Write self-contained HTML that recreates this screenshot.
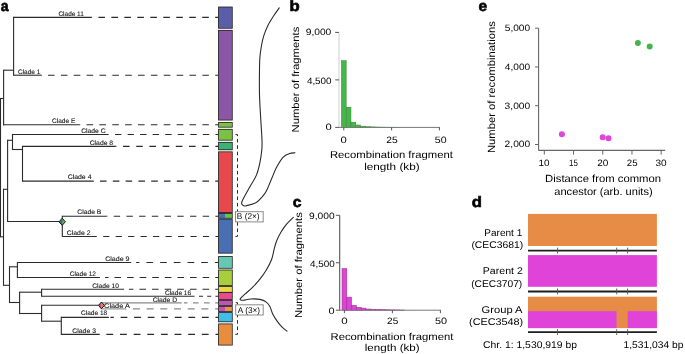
<!DOCTYPE html>
<html><head><meta charset="utf-8"><style>
html,body{margin:0;padding:0;background:#fff;width:685px;height:354px;overflow:hidden}
svg{display:block;will-change:transform}
text{font-family:"Liberation Sans",sans-serif;text-rendering:geometricPrecision}
</style></head><body>
<svg width="685" height="354" viewBox="0 0 685 354">
<rect width="685" height="354" fill="#fff"/>
<line x1="0.50" y1="97.95" x2="0.50" y2="237.35" stroke="#2b2b2b" stroke-width="1.1" />
<line x1="3.60" y1="69.65" x2="3.60" y2="125.45" stroke="#2b2b2b" stroke-width="1.1" />
<line x1="13.60" y1="16.85" x2="13.60" y2="75.75" stroke="#2b2b2b" stroke-width="1.1" />
<line x1="3.50" y1="188.75" x2="3.50" y2="285.85" stroke="#2b2b2b" stroke-width="1.1" />
<line x1="7.60" y1="139.75" x2="7.60" y2="222.05" stroke="#2b2b2b" stroke-width="1.1" />
<line x1="12.50" y1="133.95" x2="12.50" y2="150.05" stroke="#2b2b2b" stroke-width="1.1" />
<line x1="22.50" y1="145.85" x2="22.50" y2="181.65" stroke="#2b2b2b" stroke-width="1.1" />
<line x1="62.30" y1="215.75" x2="62.30" y2="237.05" stroke="#2b2b2b" stroke-width="1.1" />
<line x1="9.50" y1="266.25" x2="9.50" y2="303.05" stroke="#2b2b2b" stroke-width="1.1" />
<line x1="17.40" y1="261.95" x2="17.40" y2="278.05" stroke="#2b2b2b" stroke-width="1.1" />
<line x1="19.60" y1="291.65" x2="19.60" y2="314.05" stroke="#2b2b2b" stroke-width="1.1" />
<line x1="41.60" y1="288.65" x2="41.60" y2="296.85" stroke="#2b2b2b" stroke-width="1.1" />
<line x1="41.60" y1="304.75" x2="41.60" y2="321.75" stroke="#2b2b2b" stroke-width="1.1" />
<line x1="61.30" y1="316.85" x2="61.30" y2="334.95" stroke="#2b2b2b" stroke-width="1.1" />
<line x1="3.60" y1="70.20" x2="13.60" y2="70.20" stroke="#2b2b2b" stroke-width="1.1" />
<line x1="0.00" y1="98.50" x2="3.60" y2="98.50" stroke="#2b2b2b" stroke-width="1.1" />
<line x1="0.50" y1="236.80" x2="3.50" y2="236.80" stroke="#2b2b2b" stroke-width="1.1" />
<line x1="3.50" y1="189.30" x2="7.60" y2="189.30" stroke="#2b2b2b" stroke-width="1.1" />
<line x1="7.60" y1="140.30" x2="12.50" y2="140.30" stroke="#2b2b2b" stroke-width="1.1" />
<line x1="12.50" y1="149.50" x2="22.50" y2="149.50" stroke="#2b2b2b" stroke-width="1.1" />
<line x1="7.60" y1="221.50" x2="62.30" y2="221.50" stroke="#2b2b2b" stroke-width="1.1" />
<line x1="3.50" y1="285.30" x2="9.50" y2="285.30" stroke="#2b2b2b" stroke-width="1.1" />
<line x1="9.50" y1="266.80" x2="17.40" y2="266.80" stroke="#2b2b2b" stroke-width="1.1" />
<line x1="9.50" y1="302.50" x2="19.60" y2="302.50" stroke="#2b2b2b" stroke-width="1.1" />
<line x1="19.60" y1="292.20" x2="41.60" y2="292.20" stroke="#2b2b2b" stroke-width="1.1" />
<line x1="19.60" y1="313.50" x2="41.60" y2="313.50" stroke="#2b2b2b" stroke-width="1.1" />
<line x1="41.60" y1="305.30" x2="101.30" y2="305.30" stroke="#2b2b2b" stroke-width="1.1" />
<line x1="41.60" y1="321.20" x2="61.30" y2="321.20" stroke="#2b2b2b" stroke-width="1.1" />
<line x1="13.60" y1="17.40" x2="91.80" y2="17.40" stroke="#2b2b2b" stroke-width="1.1" />
<line x1="91.80" y1="17.40" x2="218.10" y2="17.40" stroke="#2b2b2b" stroke-width="1.1" stroke-dasharray="6.6 6.38" stroke-dashoffset="6.40"/>
<line x1="13.60" y1="75.20" x2="41.80" y2="75.20" stroke="#2b2b2b" stroke-width="1.1" />
<line x1="41.80" y1="75.20" x2="218.10" y2="75.20" stroke="#2b2b2b" stroke-width="1.1" stroke-dasharray="6.6 6.26" stroke-dashoffset="6.64"/>
<line x1="3.60" y1="124.80" x2="79.90" y2="124.80" stroke="#2b2b2b" stroke-width="1.1" />
<line x1="79.90" y1="124.80" x2="218.10" y2="124.80" stroke="#2b2b2b" stroke-width="1.1" stroke-dasharray="6.6 6.27" stroke-dashoffset="6.27"/>
<line x1="12.50" y1="134.50" x2="108.40" y2="134.50" stroke="#2b2b2b" stroke-width="1.1" />
<line x1="108.40" y1="134.50" x2="218.10" y2="134.50" stroke="#2b2b2b" stroke-width="1.1" stroke-dasharray="6.4 6.15" stroke-dashoffset="5.95"/>
<line x1="22.50" y1="146.40" x2="115.80" y2="146.40" stroke="#2b2b2b" stroke-width="1.1" />
<line x1="115.80" y1="146.40" x2="218.10" y2="146.40" stroke="#2b2b2b" stroke-width="1.1" stroke-dasharray="6.6 6.60" stroke-dashoffset="6.00"/>
<line x1="22.50" y1="181.10" x2="93.70" y2="181.10" stroke="#2b2b2b" stroke-width="1.1" />
<line x1="93.70" y1="181.10" x2="218.10" y2="181.10" stroke="#2b2b2b" stroke-width="1.1" stroke-dasharray="6.6 6.20" stroke-dashoffset="6.50"/>
<line x1="62.30" y1="216.30" x2="106.70" y2="216.30" stroke="#2b2b2b" stroke-width="1.1" />
<line x1="106.70" y1="216.30" x2="218.10" y2="216.30" stroke="#2b2b2b" stroke-width="1.1" stroke-dasharray="6.4 6.31" stroke-dashoffset="5.69"/>
<line x1="62.30" y1="236.50" x2="96.70" y2="236.50" stroke="#2b2b2b" stroke-width="1.1" />
<line x1="96.70" y1="236.50" x2="218.10" y2="236.50" stroke="#2b2b2b" stroke-width="1.1" stroke-dasharray="6.2 6.27" stroke-dashoffset="6.00"/>
<line x1="17.40" y1="262.50" x2="131.20" y2="262.50" stroke="#2b2b2b" stroke-width="1.1" />
<line x1="136.10" y1="262.50" x2="218.10" y2="262.50" stroke="#2b2b2b" stroke-width="1.1" stroke-dasharray="6.7 7.00" stroke-dashoffset="3.40"/>
<line x1="17.40" y1="277.50" x2="99.90" y2="277.50" stroke="#2b2b2b" stroke-width="1.1" />
<line x1="105.00" y1="277.50" x2="218.10" y2="277.50" stroke="#2b2b2b" stroke-width="1.1" stroke-dasharray="6.6 5.99" stroke-dashoffset="3.11"/>
<line x1="41.60" y1="289.20" x2="124.00" y2="289.20" stroke="#2b2b2b" stroke-width="1.1" />
<line x1="128.90" y1="289.20" x2="218.10" y2="289.20" stroke="#2b2b2b" stroke-width="1.1" stroke-dasharray="6.6 6.03" stroke-dashoffset="2.11"/>
<line x1="41.60" y1="296.30" x2="194.60" y2="296.30" stroke="#2b2b2b" stroke-width="1.1" />
<line x1="199.00" y1="296.30" x2="218.10" y2="296.30" stroke="#2b2b2b" stroke-width="1.1" stroke-dasharray="4.0 4.20" stroke-dashoffset="8.20"/>
<line x1="101.30" y1="302.90" x2="181.70" y2="302.90" stroke="#8a8a8a" stroke-width="1.1" />
<line x1="183.90" y1="302.90" x2="218.10" y2="302.90" stroke="#8a8a8a" stroke-width="1.1" stroke-dasharray="5.7 5.40" stroke-dashoffset="2.10"/>
<line x1="101.30" y1="308.90" x2="124.20" y2="308.90" stroke="#8a8a8a" stroke-width="1.1" />
<line x1="124.20" y1="308.90" x2="218.10" y2="308.90" stroke="#8a8a8a" stroke-width="1.1" stroke-dasharray="7.0 6.70" stroke-dashoffset="5.00"/>
<line x1="61.30" y1="317.40" x2="108.90" y2="317.40" stroke="#2b2b2b" stroke-width="1.1" />
<line x1="110.40" y1="317.40" x2="218.10" y2="317.40" stroke="#2b2b2b" stroke-width="1.1" stroke-dasharray="6.8 6.76" stroke-dashoffset="3.38"/>
<line x1="61.30" y1="334.40" x2="99.70" y2="334.40" stroke="#2b2b2b" stroke-width="1.1" />
<line x1="99.70" y1="334.40" x2="218.10" y2="334.40" stroke="#2b2b2b" stroke-width="1.1" stroke-dasharray="6.8 6.84" stroke-dashoffset="6.96"/>
<line x1="101.30" y1="302.90" x2="101.30" y2="308.90" stroke="#8a8a8a" stroke-width="1.1" />
<path d="M59.0,221.8 L62.2,218.3 L62.2,225.3 Z" fill="#4064b8"/>
<path d="M65.4,221.8 L62.2,218.3 L62.2,225.3 Z" fill="#5cb84a"/>
<path d="M59.0,221.8 L62.2,218.3 L65.4,221.8 L62.2,225.3 Z" fill="none" stroke="#1a1a1a" stroke-width="1.0"/>
<path d="M98.5,305.4 L101.4,302.0 L101.4,308.79999999999995 Z" fill="#e0409c"/>
<path d="M104.30000000000001,305.4 L101.4,302.0 L101.4,308.79999999999995 Z" fill="#f08a3a"/>
<path d="M98.5,305.4 L101.4,302.0 L104.30000000000001,305.4 L101.4,308.79999999999995 Z" fill="none" stroke="#1a1a1a" stroke-width="1.0"/>
<rect x="218.1" y="6.60" width="14.60" height="22.10" fill="#1e1e1e"/>
<rect x="218.1" y="29.90" width="14.60" height="90.60" fill="#1e1e1e"/>
<rect x="218.1" y="122.10" width="14.60" height="5.50" fill="#1e1e1e"/>
<rect x="218.1" y="128.90" width="14.60" height="11.70" fill="#1e1e1e"/>
<rect x="218.1" y="141.90" width="14.60" height="8.30" fill="#1e1e1e"/>
<rect x="218.1" y="151.40" width="14.60" height="61.55" fill="#1e1e1e"/>
<rect x="218.1" y="212.95" width="14.60" height="5.70" fill="#1e1e1e"/>
<rect x="218.1" y="218.65" width="14.60" height="34.95" fill="#1e1e1e"/>
<rect x="218.1" y="256.10" width="14.60" height="12.60" fill="#1e1e1e"/>
<rect x="218.1" y="269.60" width="14.60" height="16.30" fill="#1e1e1e"/>
<rect x="218.1" y="286.00" width="14.60" height="6.70" fill="#1e1e1e"/>
<rect x="218.1" y="292.20" width="14.60" height="7.70" fill="#1e1e1e"/>
<rect x="218.1" y="300.10" width="14.60" height="5.80" fill="#1e1e1e"/>
<rect x="218.1" y="306.10" width="14.60" height="5.80" fill="#1e1e1e"/>
<rect x="218.1" y="312.10" width="14.60" height="10.10" fill="#1e1e1e"/>
<rect x="218.1" y="323.50" width="14.60" height="22.00" fill="#1e1e1e"/>
<rect x="218.9" y="7.4" width="13.00" height="20.50" fill="#5a5ea8"/>
<rect x="218.9" y="30.7" width="13.00" height="89.00" fill="#8a56a5"/>
<rect x="218.9" y="122.9" width="13.00" height="3.90" fill="#7cc143"/>
<rect x="218.9" y="129.7" width="13.00" height="10.10" fill="#7cc143"/>
<rect x="218.9" y="142.7" width="13.00" height="6.70" fill="#3eb272"/>
<rect x="218.9" y="152.2" width="13.00" height="59.95" fill="#e8484c"/>
<rect x="218.9" y="213.75" width="6.10" height="4.10" fill="#4a6eb4"/>
<rect x="225.0" y="213.75" width="6.90" height="4.10" fill="#6cc048"/>
<rect x="218.9" y="219.45" width="13.00" height="33.35" fill="#4a6eb4"/>
<rect x="218.9" y="256.9" width="13.00" height="11.00" fill="#66c8b0"/>
<rect x="218.9" y="270.4" width="13.00" height="14.70" fill="#a8ce3c"/>
<rect x="218.9" y="286.8" width="13.00" height="5.10" fill="#e8d846"/>
<rect x="218.9" y="293.0" width="13.00" height="6.10" fill="#ec4890"/>
<rect x="218.9" y="300.9" width="13.00" height="4.20" fill="#c452b0"/>
<rect x="218.9" y="306.9" width="6.10" height="4.20" fill="#c452b0"/>
<rect x="225.0" y="306.9" width="6.90" height="4.20" fill="#ea9444"/>
<rect x="218.9" y="312.9" width="13.00" height="8.50" fill="#40bee8"/>
<rect x="218.9" y="324.3" width="13.00" height="20.40" fill="#e88c3e"/>
<path d="M232.70000000000002,134.6 H237.5 V236.4 H232.70000000000002" fill="none" stroke="#2b2b2b" stroke-width="1" stroke-dasharray="3.6 2.8" stroke-dashoffset="3.7"/>
<path d="M232.70000000000002,302.7 H237.5 V334.3 H232.70000000000002" fill="none" stroke="#2b2b2b" stroke-width="1" stroke-dasharray="3.6 2.8" stroke-dashoffset="3.4"/>
<rect x="235.5" y="211.7" width="27.70" height="10.20" fill="#fff" stroke="#8a8a8a" stroke-width="1"/>
<rect x="235.7" y="304.8" width="27.50" height="10.20" fill="#fff" stroke="#8a8a8a" stroke-width="1"/>
<path d="M279.20,7.90 C278.28,9.22 275.60,12.83 273.70,15.80 C271.80,18.77 269.45,22.40 267.80,25.70 C266.15,29.00 264.85,32.30 263.80,35.60 C262.75,38.90 262.15,41.88 261.50,45.50 C260.85,49.12 260.23,53.22 259.90,57.30 C259.57,61.38 259.57,63.72 259.50,70.00 C259.43,76.28 259.28,86.67 259.50,95.00 C259.72,103.33 260.38,112.50 260.80,120.00 C261.22,127.50 261.83,135.00 262.00,140.00 C262.17,145.00 262.18,146.07 261.80,150.00 C261.42,153.93 260.62,159.37 259.70,163.60 C258.78,167.83 257.98,171.45 256.30,175.40 C254.62,179.35 251.62,183.70 249.60,187.30 C247.58,190.90 245.53,194.38 244.20,197.00 C242.87,199.62 241.77,201.57 241.60,203.00 C241.43,204.43 242.38,205.15 243.20,205.60 C244.02,206.05 244.32,206.22 246.50,205.70 C248.68,205.18 253.63,204.03 256.30,202.50 C258.97,200.97 260.80,198.47 262.50,196.50 C264.20,194.53 264.98,193.65 266.50,190.70 C268.02,187.75 269.90,182.75 271.60,178.80 C273.30,174.85 274.72,170.67 276.70,167.00 C278.68,163.33 281.37,159.03 283.50,156.80 C285.63,154.57 287.58,154.27 289.50,153.60 C291.42,152.93 294.08,152.93 295.00,152.80" fill="none" stroke="#2a2a2a" stroke-width="1.1" stroke-linecap="round"/>
<path d="M293.30,217.40 C292.22,218.48 288.87,221.42 286.80,223.90 C284.73,226.38 282.58,229.48 280.90,232.30 C279.22,235.12 277.83,237.97 276.70,240.80 C275.57,243.63 274.95,246.18 274.10,249.30 C273.25,252.42 272.90,256.05 271.60,259.50 C270.30,262.95 268.25,266.72 266.30,270.00 C264.35,273.28 262.20,276.30 259.90,279.20 C257.60,282.10 254.95,284.95 252.50,287.40 C250.05,289.85 247.12,292.17 245.20,293.90 C243.28,295.63 241.83,296.85 241.00,297.80 C240.17,298.75 239.82,299.18 240.20,299.60 C240.58,300.02 241.55,300.40 243.30,300.30 C245.05,300.20 247.93,299.15 250.70,299.00 C253.47,298.85 257.30,298.88 259.90,299.40 C262.50,299.92 264.62,300.88 266.30,302.10 C267.98,303.32 268.93,304.72 270.00,306.70 C271.07,308.68 271.48,311.55 272.70,314.00 C273.92,316.45 275.77,319.25 277.30,321.40 C278.83,323.55 280.28,325.28 281.90,326.90 C283.52,328.52 286.15,330.40 287.00,331.10" fill="none" stroke="#2a2a2a" stroke-width="1.1" stroke-linecap="round"/>
<rect x="341.41" y="60.70" width="4.78" height="66.70" fill="#48b54a" stroke="#2e8a32" stroke-width="0.5"/>
<rect x="346.19" y="107.20" width="4.78" height="20.20" fill="#48b54a" stroke="#2e8a32" stroke-width="0.5"/>
<rect x="350.97" y="122.20" width="4.78" height="5.20" fill="#48b54a" stroke="#2e8a32" stroke-width="0.5"/>
<rect x="355.75" y="125.00" width="4.78" height="2.40" fill="#48b54a" stroke="#2e8a32" stroke-width="0.5"/>
<rect x="360.53" y="126.20" width="4.78" height="1.20" fill="#48b54a" stroke="#2e8a32" stroke-width="0.5"/>
<rect x="365.31" y="126.70" width="4.78" height="0.70" fill="#48b54a" stroke="#2e8a32" stroke-width="0.5"/>
<rect x="370.09" y="126.90" width="4.78" height="0.50" fill="#48b54a" stroke="#2e8a32" stroke-width="0.5"/>
<rect x="374.87" y="127.05" width="4.78" height="0.35" fill="#48b54a" stroke="#2e8a32" stroke-width="0.5"/>
<rect x="379.65" y="127.15" width="4.78" height="0.25" fill="#48b54a" stroke="#2e8a32" stroke-width="0.5"/>
<rect x="384.43" y="127.20" width="4.78" height="0.20" fill="#48b54a" stroke="#2e8a32" stroke-width="0.5"/>
<rect x="389.21" y="127.25" width="4.78" height="0.15" fill="#48b54a" stroke="#2e8a32" stroke-width="0.5"/>
<rect x="393.99" y="127.30" width="4.78" height="0.10" fill="#48b54a" stroke="#2e8a32" stroke-width="0.5"/>
<line x1="339.00" y1="32.40" x2="339.00" y2="127.40" stroke="#d4d4d4" stroke-width="1.1" />
<line x1="335.20" y1="32.40" x2="339.00" y2="32.40" stroke="#555" stroke-width="1" />
<line x1="335.20" y1="79.90" x2="339.00" y2="79.90" stroke="#555" stroke-width="1" />
<line x1="335.20" y1="127.40" x2="339.00" y2="127.40" stroke="#555" stroke-width="1" />
<line x1="338.50" y1="127.40" x2="439.90" y2="127.40" stroke="#777" stroke-width="1" />
<line x1="343.80" y1="127.40" x2="343.80" y2="130.40" stroke="#555" stroke-width="1" />
<line x1="391.60" y1="127.40" x2="391.60" y2="130.40" stroke="#555" stroke-width="1" />
<line x1="439.40" y1="127.40" x2="439.40" y2="130.40" stroke="#555" stroke-width="1" />
<rect x="342.00" y="268.60" width="4.80" height="41.60" fill="#dc44d6" stroke="#9a2a96" stroke-width="0.5"/>
<rect x="346.80" y="297.10" width="4.80" height="13.10" fill="#dc44d6" stroke="#9a2a96" stroke-width="0.5"/>
<rect x="351.60" y="305.30" width="4.80" height="4.90" fill="#dc44d6" stroke="#9a2a96" stroke-width="0.5"/>
<rect x="356.40" y="307.30" width="4.80" height="2.90" fill="#dc44d6" stroke="#9a2a96" stroke-width="0.5"/>
<rect x="361.20" y="308.10" width="4.80" height="2.10" fill="#dc44d6" stroke="#9a2a96" stroke-width="0.5"/>
<rect x="366.00" y="309.00" width="4.80" height="1.20" fill="#dc44d6" stroke="#9a2a96" stroke-width="0.5"/>
<rect x="370.80" y="309.20" width="4.80" height="1.00" fill="#dc44d6" stroke="#9a2a96" stroke-width="0.5"/>
<rect x="375.60" y="309.40" width="4.80" height="0.80" fill="#dc44d6" stroke="#9a2a96" stroke-width="0.5"/>
<rect x="380.40" y="309.60" width="4.80" height="0.60" fill="#dc44d6" stroke="#9a2a96" stroke-width="0.5"/>
<rect x="385.20" y="309.80" width="4.80" height="0.40" fill="#dc44d6" stroke="#9a2a96" stroke-width="0.5"/>
<rect x="390.00" y="309.90" width="4.80" height="0.30" fill="#dc44d6" stroke="#9a2a96" stroke-width="0.5"/>
<rect x="394.80" y="309.95" width="4.80" height="0.25" fill="#dc44d6" stroke="#9a2a96" stroke-width="0.5"/>
<rect x="399.60" y="310.00" width="4.80" height="0.20" fill="#dc44d6" stroke="#9a2a96" stroke-width="0.5"/>
<line x1="339.70" y1="215.30" x2="339.70" y2="310.20" stroke="#555" stroke-width="1.1" />
<line x1="335.90" y1="215.30" x2="339.70" y2="215.30" stroke="#555" stroke-width="1" />
<line x1="335.90" y1="262.75" x2="339.70" y2="262.75" stroke="#555" stroke-width="1" />
<line x1="335.90" y1="310.20" x2="339.70" y2="310.20" stroke="#555" stroke-width="1" />
<line x1="339.20" y1="310.20" x2="440.90" y2="310.20" stroke="#777" stroke-width="1" />
<line x1="344.40" y1="310.20" x2="344.40" y2="313.20" stroke="#555" stroke-width="1" />
<line x1="392.40" y1="310.20" x2="392.40" y2="313.20" stroke="#555" stroke-width="1" />
<line x1="440.40" y1="310.20" x2="440.40" y2="313.20" stroke="#555" stroke-width="1" />
<line x1="538.60" y1="28.20" x2="538.60" y2="150.40" stroke="#666" stroke-width="1.1" />
<line x1="538.60" y1="150.40" x2="665.20" y2="150.40" stroke="#666" stroke-width="1.1" />
<line x1="535.00" y1="28.20" x2="538.60" y2="28.20" stroke="#666" stroke-width="1" />
<line x1="535.00" y1="66.97" x2="538.60" y2="66.97" stroke="#666" stroke-width="1" />
<line x1="535.00" y1="105.73" x2="538.60" y2="105.73" stroke="#666" stroke-width="1" />
<line x1="535.00" y1="144.50" x2="538.60" y2="144.50" stroke="#666" stroke-width="1" />
<line x1="544.30" y1="150.40" x2="544.30" y2="154.60" stroke="#666" stroke-width="1" />
<line x1="573.52" y1="150.40" x2="573.52" y2="154.60" stroke="#666" stroke-width="1" />
<line x1="602.75" y1="150.40" x2="602.75" y2="154.60" stroke="#666" stroke-width="1" />
<line x1="631.98" y1="150.40" x2="631.98" y2="154.60" stroke="#666" stroke-width="1" />
<line x1="661.20" y1="150.40" x2="661.20" y2="154.60" stroke="#666" stroke-width="1" />
<circle cx="637.9" cy="42.9" r="3" fill="#45b54a"/>
<circle cx="649.7" cy="46.5" r="3" fill="#45b54a"/>
<circle cx="561.9" cy="134.2" r="3" fill="#e044d8"/>
<circle cx="602.7" cy="137.3" r="3" fill="#e044d8"/>
<circle cx="608.5" cy="138.3" r="3" fill="#e044d8"/>
<rect x="528.0" y="213.9" width="128.90" height="32.10" fill="#e68c46"/>
<rect x="528.0" y="255.1" width="128.90" height="31.70" fill="#e043d8"/>
<rect x="528.0" y="296.7" width="128.90" height="31.40" fill="#e68c46"/>
<rect x="528.0" y="311.2" width="88.50" height="16.90" fill="#e043d8"/>
<rect x="627.7" y="311.2" width="29.20" height="16.90" fill="#e043d8"/>
<line x1="528.00" y1="250.70" x2="656.90" y2="250.70" stroke="#1e1e1e" stroke-width="1.8" />
<line x1="557.50" y1="247.70" x2="557.50" y2="253.50" stroke="#555" stroke-width="0.9" />
<line x1="616.70" y1="247.70" x2="616.70" y2="253.50" stroke="#555" stroke-width="0.9" />
<line x1="627.60" y1="247.70" x2="627.60" y2="253.50" stroke="#555" stroke-width="0.9" />
<line x1="528.00" y1="291.50" x2="656.90" y2="291.50" stroke="#1e1e1e" stroke-width="1.8" />
<line x1="557.50" y1="288.50" x2="557.50" y2="294.30" stroke="#555" stroke-width="0.9" />
<line x1="616.70" y1="288.50" x2="616.70" y2="294.30" stroke="#555" stroke-width="0.9" />
<line x1="627.60" y1="288.50" x2="627.60" y2="294.30" stroke="#555" stroke-width="0.9" />
<line x1="528.00" y1="332.20" x2="656.90" y2="332.20" stroke="#1e1e1e" stroke-width="1.8" />
<line x1="557.50" y1="329.20" x2="557.50" y2="335.00" stroke="#555" stroke-width="0.9" />
<line x1="616.70" y1="329.20" x2="616.70" y2="335.00" stroke="#555" stroke-width="0.9" />
<line x1="627.60" y1="329.20" x2="627.60" y2="335.00" stroke="#555" stroke-width="0.9" />
<text x="0.70" y="11.00" font-size="15" font-weight="bold" fill="#000" stroke="#000" stroke-width="0.6" textLength="7.83" lengthAdjust="spacingAndGlyphs">a</text>
<text x="289.55" y="11.00" font-size="15" font-weight="bold" fill="#000" stroke="#000" stroke-width="0.6" textLength="10.21" lengthAdjust="spacingAndGlyphs">b</text>
<text x="292.85" y="207.00" font-size="15" font-weight="bold" fill="#000" stroke="#000" stroke-width="0.6" textLength="8.70" lengthAdjust="spacingAndGlyphs">c</text>
<text x="471.65" y="207.00" font-size="15" font-weight="bold" fill="#000" stroke="#000" stroke-width="0.6" textLength="10.19" lengthAdjust="spacingAndGlyphs">d</text>
<text x="478.45" y="11.00" font-size="15" font-weight="bold" fill="#000" stroke="#000" stroke-width="0.6" textLength="8.69" lengthAdjust="spacingAndGlyphs">e</text>
<text x="58.45" y="16.00" font-size="6.6" font-weight="normal" fill="#1a1a1a" stroke="#1a1a1a" stroke-width="0.12" textLength="25.37" lengthAdjust="spacingAndGlyphs">Clade 11</text>
<text x="17.95" y="74.00" font-size="6.6" font-weight="normal" fill="#1a1a1a" stroke="#1a1a1a" stroke-width="0.12" textLength="22.51" lengthAdjust="spacingAndGlyphs">Clade 1</text>
<text x="52.10" y="123.00" font-size="6.6" font-weight="normal" fill="#1a1a1a" stroke="#1a1a1a" stroke-width="0.12" textLength="23.16" lengthAdjust="spacingAndGlyphs">Clade E</text>
<text x="81.15" y="133.00" font-size="6.6" font-weight="normal" fill="#1a1a1a" stroke="#1a1a1a" stroke-width="0.12" textLength="24.37" lengthAdjust="spacingAndGlyphs">Clade C</text>
<text x="89.65" y="145.00" font-size="6.6" font-weight="normal" fill="#1a1a1a" stroke="#1a1a1a" stroke-width="0.12" textLength="23.52" lengthAdjust="spacingAndGlyphs">Clade 8</text>
<text x="67.65" y="179.00" font-size="6.6" font-weight="normal" fill="#1a1a1a" stroke="#1a1a1a" stroke-width="0.12" textLength="23.86" lengthAdjust="spacingAndGlyphs">Clade 4</text>
<text x="77.25" y="214.00" font-size="6.6" font-weight="normal" fill="#1a1a1a" stroke="#1a1a1a" stroke-width="0.12" textLength="24.16" lengthAdjust="spacingAndGlyphs">Clade B</text>
<text x="66.80" y="235.00" font-size="6.6" font-weight="normal" fill="#1a1a1a" stroke="#1a1a1a" stroke-width="0.12" textLength="23.66" lengthAdjust="spacingAndGlyphs">Clade 2</text>
<text x="105.15" y="261.00" font-size="6.6" font-weight="normal" fill="#1a1a1a" stroke="#1a1a1a" stroke-width="0.12" textLength="24.32" lengthAdjust="spacingAndGlyphs">Clade 9</text>
<text x="69.65" y="276.00" font-size="6.6" font-weight="normal" fill="#1a1a1a" stroke="#1a1a1a" stroke-width="0.12" textLength="26.32" lengthAdjust="spacingAndGlyphs">Clade 12</text>
<text x="92.30" y="288.00" font-size="6.6" font-weight="normal" fill="#1a1a1a" stroke="#1a1a1a" stroke-width="0.12" textLength="26.66" lengthAdjust="spacingAndGlyphs">Clade 10</text>
<text x="164.95" y="295.00" font-size="6.6" font-weight="normal" fill="#1a1a1a" stroke="#1a1a1a" stroke-width="0.12" textLength="26.21" lengthAdjust="spacingAndGlyphs">Clade 16</text>
<text x="152.65" y="302.00" font-size="6.6" font-weight="normal" fill="#1a1a1a" stroke="#1a1a1a" stroke-width="0.12" textLength="24.52" lengthAdjust="spacingAndGlyphs">Clade D</text>
<text x="104.10" y="308.00" font-size="6.6" font-weight="normal" fill="#1a1a1a" stroke="#1a1a1a" stroke-width="0.12" textLength="25.72" lengthAdjust="spacingAndGlyphs">Clade A</text>
<text x="81.10" y="315.00" font-size="6.6" font-weight="normal" fill="#1a1a1a" stroke="#1a1a1a" stroke-width="0.12" textLength="26.02" lengthAdjust="spacingAndGlyphs">Clade 18</text>
<text x="72.30" y="333.00" font-size="6.6" font-weight="normal" fill="#1a1a1a" stroke="#1a1a1a" stroke-width="0.12" textLength="23.66" lengthAdjust="spacingAndGlyphs">Clade 3</text>
<text x="236.85" y="219.40" font-size="8.4" font-weight="normal" fill="#000" textLength="22.76" lengthAdjust="spacingAndGlyphs">B (2×)</text>
<text x="237.80" y="312.60" font-size="8.4" font-weight="normal" fill="#000" textLength="22.29" lengthAdjust="spacingAndGlyphs">A (3×)</text>
<text x="305.70" y="35.10" font-size="9.2" font-weight="normal" fill="#000" textLength="25.62" lengthAdjust="spacingAndGlyphs">9,000</text>
<text x="306.90" y="83.50" font-size="9.2" font-weight="normal" fill="#000" textLength="24.71" lengthAdjust="spacingAndGlyphs">4,500</text>
<text x="325.50" y="130.40" font-size="9.2" font-weight="normal" fill="#000" textLength="6.27" lengthAdjust="spacingAndGlyphs">0</text>
<text x="340.45" y="143.20" font-size="9.2" font-weight="normal" fill="#000" textLength="6.30" lengthAdjust="spacingAndGlyphs">0</text>
<text x="386.20" y="143.20" font-size="9.2" font-weight="normal" fill="#000" textLength="11.43" lengthAdjust="spacingAndGlyphs">25</text>
<text x="434.80" y="143.20" font-size="9.2" font-weight="normal" fill="#000" textLength="11.77" lengthAdjust="spacingAndGlyphs">50</text>
<text x="329.95" y="158.35" font-size="10" font-weight="normal" fill="#000" textLength="122.90" lengthAdjust="spacingAndGlyphs">Recombination fragment</text>
<text x="364.15" y="169.65" font-size="10" font-weight="normal" fill="#000" textLength="55.47" lengthAdjust="spacingAndGlyphs">length (kb)</text>
<text x="309.00" y="218.70" font-size="9.2" font-weight="normal" fill="#000" textLength="25.62" lengthAdjust="spacingAndGlyphs">9,000</text>
<text x="309.90" y="266.60" font-size="9.2" font-weight="normal" fill="#000" textLength="24.76" lengthAdjust="spacingAndGlyphs">4,500</text>
<text x="328.60" y="313.60" font-size="9.2" font-weight="normal" fill="#000" textLength="6.11" lengthAdjust="spacingAndGlyphs">0</text>
<text x="341.30" y="324.20" font-size="9.2" font-weight="normal" fill="#000" textLength="6.42" lengthAdjust="spacingAndGlyphs">0</text>
<text x="387.10" y="324.20" font-size="9.2" font-weight="normal" fill="#000" textLength="11.12" lengthAdjust="spacingAndGlyphs">25</text>
<text x="435.00" y="324.20" font-size="9.2" font-weight="normal" fill="#000" textLength="12.08" lengthAdjust="spacingAndGlyphs">50</text>
<text x="330.50" y="339.95" font-size="10" font-weight="normal" fill="#000" textLength="122.85" lengthAdjust="spacingAndGlyphs">Recombination fragment</text>
<text x="364.75" y="351.15" font-size="10" font-weight="normal" fill="#000" textLength="54.91" lengthAdjust="spacingAndGlyphs">length (kb)</text>
<text x="504.80" y="30.80" font-size="9.2" font-weight="normal" fill="#000" textLength="25.32" lengthAdjust="spacingAndGlyphs">5,000</text>
<text x="504.85" y="69.80" font-size="9.2" font-weight="normal" fill="#000" textLength="25.36" lengthAdjust="spacingAndGlyphs">4,000</text>
<text x="504.60" y="108.60" font-size="9.2" font-weight="normal" fill="#000" textLength="25.62" lengthAdjust="spacingAndGlyphs">3,000</text>
<text x="504.60" y="147.20" font-size="9.2" font-weight="normal" fill="#000" textLength="25.62" lengthAdjust="spacingAndGlyphs">2,000</text>
<text x="538.55" y="165.80" font-size="9.2" font-weight="normal" fill="#000" textLength="11.05" lengthAdjust="spacingAndGlyphs">10</text>
<text x="569.00" y="165.55" font-size="9.2" font-weight="normal" fill="#000" textLength="8.77" lengthAdjust="spacingAndGlyphs">15</text>
<text x="597.20" y="165.80" font-size="9.2" font-weight="normal" fill="#000" textLength="11.12" lengthAdjust="spacingAndGlyphs">20</text>
<text x="626.80" y="165.80" font-size="9.2" font-weight="normal" fill="#000" textLength="10.77" lengthAdjust="spacingAndGlyphs">25</text>
<text x="655.45" y="165.80" font-size="9.2" font-weight="normal" fill="#000" textLength="11.15" lengthAdjust="spacingAndGlyphs">30</text>
<text x="545.10" y="181.70" font-size="10.4" font-weight="normal" fill="#000" textLength="115.90" lengthAdjust="spacingAndGlyphs">Distance from common</text>
<text x="554.30" y="194.60" font-size="10.4" font-weight="normal" fill="#000" textLength="98.34" lengthAdjust="spacingAndGlyphs">ancestor (arb. units)</text>
<text x="484.35" y="235.55" font-size="9.8" font-weight="normal" fill="#000" textLength="37.94" lengthAdjust="spacingAndGlyphs">Parent 1</text>
<text x="471.40" y="248.35" font-size="9.8" font-weight="normal" fill="#000" textLength="51.89" lengthAdjust="spacingAndGlyphs">(CEC3681)</text>
<text x="482.80" y="274.25" font-size="9.8" font-weight="normal" fill="#000" textLength="40.00" lengthAdjust="spacingAndGlyphs">Parent 2</text>
<text x="471.20" y="287.05" font-size="9.8" font-weight="normal" fill="#000" textLength="51.09" lengthAdjust="spacingAndGlyphs">(CEC3707)</text>
<text x="481.60" y="312.65" font-size="9.8" font-weight="normal" fill="#000" textLength="40.97" lengthAdjust="spacingAndGlyphs">Group A</text>
<text x="469.05" y="325.35" font-size="9.8" font-weight="normal" fill="#000" textLength="54.19" lengthAdjust="spacingAndGlyphs">(CEC3548)</text>
<text x="483.10" y="347.65" font-size="9.8" font-weight="normal" fill="#000" textLength="93.88" lengthAdjust="spacingAndGlyphs">Chr. 1: 1,530,919 bp</text>
<text x="623.45" y="347.75" font-size="9.8" font-weight="normal" fill="#000" textLength="60.00" lengthAdjust="spacingAndGlyphs">1,531,034 bp</text>
<text x="0" y="0" font-size="10" text-anchor="middle" fill="#000" textLength="105.75" lengthAdjust="spacingAndGlyphs" transform="translate(299.05,79.60) rotate(-90)">Number of fragments</text>
<text x="0" y="0" font-size="10" text-anchor="middle" fill="#000" textLength="105.81" lengthAdjust="spacingAndGlyphs" transform="translate(302.25,265.15) rotate(-90)">Number of fragments</text>
<text x="0" y="0" font-size="10.4" text-anchor="middle" fill="#000" textLength="131.85" lengthAdjust="spacingAndGlyphs" transform="translate(494.80,87.12) rotate(-90)">Number of recombinations</text>
</svg>
</body></html>
